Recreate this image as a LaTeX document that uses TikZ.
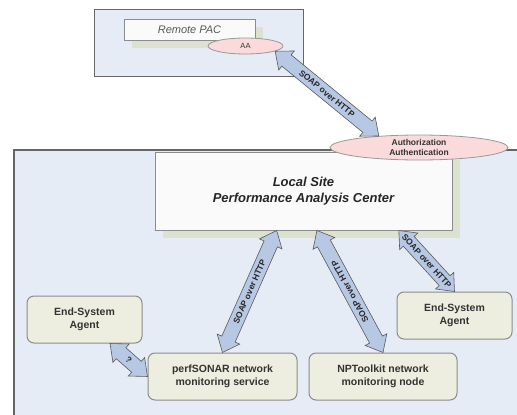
\documentclass[tikz,border=0pt]{standalone}
\usepackage{fontspec}
\setmainfont{Liberation Sans}
\usetikzlibrary{calc,shapes.geometric,shapes.arrows,shadows}

\definecolor{regionbg}{RGB}{230,236,246}
\definecolor{agentbg}{RGB}{238,238,224}
\definecolor{ellpink}{RGB}{250,218,218}
\definecolor{arrowblue}{RGB}{183,200,228}
\definecolor{shadowc}{RGB}{221,226,208}

\tikzset{
  panel/.style={draw=black!60, fill=regionbg, line width=1pt},
  pacbox/.style={draw=black!45, fill=white!98!black, line width=1pt,
    drop shadow={shadow xshift=8pt, shadow yshift=-8pt, fill=shadowc, opacity=1}},
  agent/.style={draw=black!45, fill=agentbg, rounded corners=7pt, line width=1pt,
    minimum width=115pt, minimum height=47pt, align=center, text=black!80,
    font=\fontsize{10.5}{13}\selectfont\bfseries},
  authell/.style={ellipse, draw=black!40, fill=ellpink, line width=0.8pt, inner sep=0pt,
    align=center, text=black!80},
  soap/.style={double arrow, draw=black!65, fill=arrowblue, line width=0.6pt,
    double arrow head extend=5pt, double arrow tip angle=80, inner xsep=0pt, inner ysep=7pt},
  soaptext/.style={font=\fontsize{8.5}{9}\selectfont\bfseries, text=black!85, inner sep=0pt}
}

% block arrow between two named points, text runs from #1 to #2
\newcommand\soaplink[3]{%
  \path let \p1=($(#2)-(#1)$), \n1={veclen(\x1,\y1)}, \n2={atan2(\y1,\x1)} in
    ($(#1)!0.5!(#2)$) node[soap, minimum height=\n1, rotate=\n2] {}
    ($(#1)!0.5!(#2)$) node[soaptext, rotate=\n2] {#3};}

\begin{document}
\begin{tikzpicture}[x=1pt, y=-1pt]
  \useasboundingbox (0,0) rectangle (517,415);

  % remote site
  \node[panel, minimum width=209pt, minimum height=67pt] (remote) at (198.5,42.5) {};
  \node[pacbox, minimum width=131pt, minimum height=21pt, text=black!65,
    font=\fontsize{11}{13}\selectfont\itshape] (rpac) at (189.5,29.5) {Remote PAC};
  \node[authell, minimum width=75pt, minimum height=16pt,
    font=\fontsize{7.5}{9}\selectfont] (aa) at (245.5,46) {AA};

  % local site
  \draw[draw=black!60, fill=regionbg, line width=1.5pt] (14,150) rectangle (530,430);
  \node[pacbox, minimum width=297pt, minimum height=78pt, align=center, text=black!85,
    font=\fontsize{13}{16}\selectfont\bfseries\itshape] (lpac) at (303.5,191)
    {Local Site\\Performance Analysis Center};
  \node[authell, minimum width=178pt, minimum height=25pt,
    font=\fontsize{8.5}{10}\selectfont\bfseries] (auth) at (419,147.5)
    {Authorization\\Authentication};

  \node[agent] (esleft) at (84.5,319.5) {End-System\\Agent};
  \node[agent] (esright) at (454.5,315.5) {End-System\\Agent};
  \node[agent, minimum width=149pt] (psonar) at (222.5,376.5) {perfSONAR network\\monitoring service};
  \node[agent, minimum width=148pt] (nptk) at (383,376.5) {NPToolkit network\\monitoring node};

  \coordinate (l1) at ($(lpac.south west)!0.41!(lpac.south east)$);
  \coordinate (l2) at ($(lpac.south west)!0.545!(lpac.south east)$);
  \coordinate (l3) at ($(lpac.south west)!0.82!(lpac.south east)$);
  \coordinate (q1) at ($(esleft.south west)!0.72!(esleft.south east)$);
  \coordinate (a1) at (aa.-10);
  \coordinate (a2) at (auth.164);

  \soaplink{a1}{a2}{SOAP over HTTP}
  \soaplink{psonar.north}{l1}{SOAP over HTTP}
  \soaplink{nptk.north}{l2}{SOAP over HTTP}
  \soaplink{l3}{esright.north}{SOAP over HTTP}
  \soaplink{q1}{psonar.west}{?}
\end{tikzpicture}
\end{document}
